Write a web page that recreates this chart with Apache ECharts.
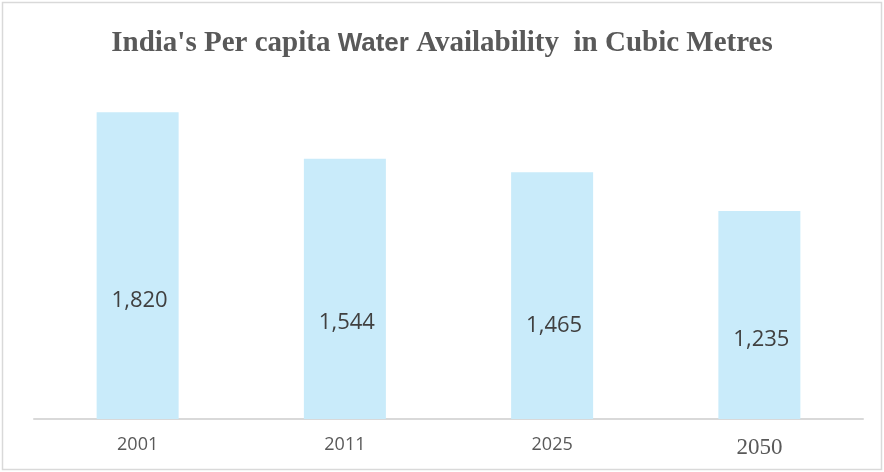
<!DOCTYPE html>
<html><head><meta charset="utf-8">
<script src="https://cdn.jsdelivr.net/npm/echarts@6/dist/echarts.min.js"></script>
<style>html,body{margin:0;padding:0;background:#fff}#c{width:884px;height:472px}</style>
</head><body><div id="c"></div>
<script>
const categories = ['2001', '2011', '2025', '2050'];
const values = [1820, 1544, 1465, 1235];
const labelOffsets = [35, 34, 30, 25];

const chart = echarts.init(document.getElementById('c'));
chart.setOption({
  backgroundColor: '#fff',
  animation: false,
  title: {
    text: "{a|India's Per capita }{b|Water}{a| Availability  in Cubic Metres}",
    left: 'center',
    top: 24,
    textStyle: {
      rich: {
        a: { fontFamily: 'Liberation Serif', fontWeight: 'bold', fontSize: 29, color: '#595959' },
        b: { fontFamily: 'Liberation Sans', fontWeight: 'bold', fontSize: 26, color: '#595959' }
      }
    }
  },
  graphic: [{
    type: 'rect', shape: { x: 2.5, y: 2.5, width: 879, height: 467 },
    style: { fill: 'none', stroke: '#d9d9d9', lineWidth: 1.5 }, silent: true, z: -1
  }],
  grid: { left: 34, right: 21, top: 82, bottom: 53, containLabel: false },
  xAxis: {
    type: 'category',
    data: categories,
    axisLine: { lineStyle: { color: '#d9d9d9', width: 2 } },
    axisTick: { show: false },
    axisLabel: {
      margin: 17,
      fontFamily: 'Open Sans', fontSize: 18, color: '#595959',
      formatter: function (v) { return v === '2050' ? '{s|' + v + '}' : v; },
      rich: { s: { fontFamily: 'Liberation Serif', fontSize: 23, color: '#595959' } }
    }
  },
  yAxis: {
    type: 'value', min: 0, max: 2000, show: false,
    splitLine: { show: false }
  },
  series: [{
    type: 'bar',
    barWidth: 82,
    data: values.map((v, i) => ({
      value: v,
      label: { offset: [2, labelOffsets[i]] }
    })),
    itemStyle: { color: '#c9ebfa' },
    label: {
      show: true, position: 'inside',
      fontFamily: 'Open Sans', fontSize: 22, color: '#404040',
      formatter: p => p.value.toLocaleString('en-US')
    }
  }]
});
</script></body></html>
